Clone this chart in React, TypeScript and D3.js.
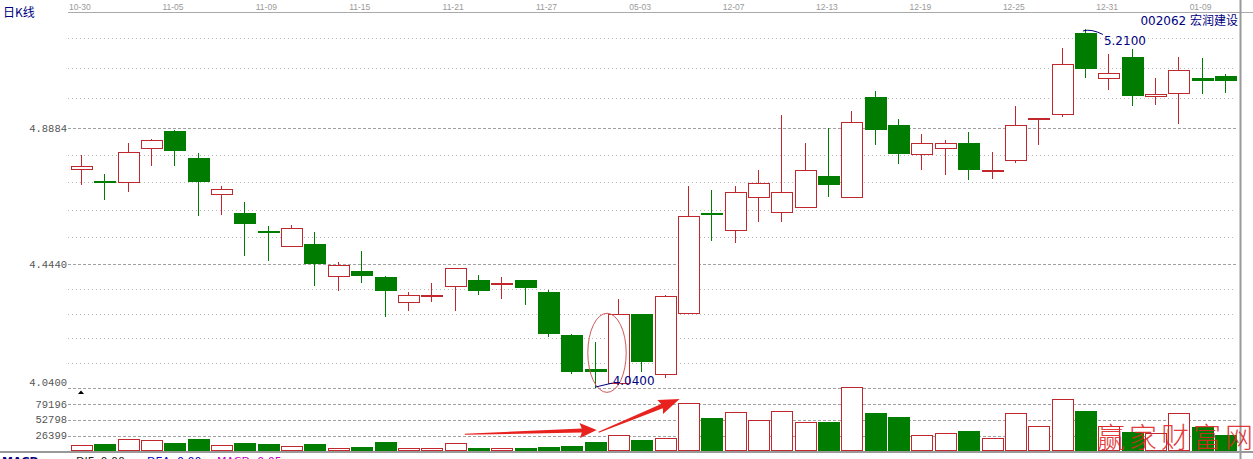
import React from "react";
import * as d3 from "d3";

// ---------- data ----------
const tickLabels = ["10-30", "11-05", "11-09", "11-15", "11-21", "11-27", "05-03", "12-07", "12-13", "12-19", "12-25", "12-31", "01-09"];
const tickIndex = [0, 4, 8, 12, 16, 20, 24, 28, 32, 36, 40, 44, 48];

const openP = [4.755, 4.717, 4.711, 4.823, 4.880, 4.790, 4.673, 4.611, 4.553, 4.502, 4.510, 4.404, 4.423, 4.402, 4.322, 4.342, 4.374, 4.393, 4.381, 4.393, 4.353, 4.213, 4.102, 4.055, 4.281, 4.085, 4.284, 4.611, 4.554, 4.663, 4.614, 4.632, 4.733, 4.663, 4.990, 4.898, 4.802, 4.823, 4.839, 4.749, 4.784, 4.920, 4.934, 5.199, 5.052, 5.121, 4.993, 5.003, 5.050, 5.059];
const highP = [4.801, 4.738, 4.839, 4.852, 4.882, 4.807, 4.700, 4.647, 4.569, 4.572, 4.550, 4.451, 4.488, 4.404, 4.353, 4.382, 4.432, 4.409, 4.402, 4.394, 4.360, 4.215, 4.191, 4.331, 4.283, 4.342, 4.700, 4.687, 4.700, 4.752, 4.932, 4.841, 4.888, 4.943, 5.008, 4.918, 4.870, 4.850, 4.875, 4.810, 4.961, 4.922, 5.150, 5.210, 5.131, 5.147, 5.050, 5.121, 5.117, 5.065];
const lowP = [4.701, 4.652, 4.681, 4.763, 4.763, 4.602, 4.603, 4.472, 4.453, 4.500, 4.374, 4.355, 4.384, 4.273, 4.292, 4.322, 4.292, 4.344, 4.331, 4.311, 4.205, 4.085, 4.040, 4.055, 4.093, 4.073, 4.282, 4.521, 4.513, 4.583, 4.583, 4.630, 4.662, 4.660, 4.832, 4.772, 4.752, 4.734, 4.720, 4.722, 4.774, 4.832, 4.924, 5.050, 5.011, 4.961, 4.962, 4.902, 5.000, 5.003];
const closeP = [4.763, 4.711, 4.810, 4.850, 4.812, 4.711, 4.689, 4.575, 4.545, 4.562, 4.444, 4.442, 4.404, 4.355, 4.343, 4.344, 4.431, 4.355, 4.383, 4.366, 4.215, 4.093, 4.093, 4.281, 4.124, 4.341, 4.600, 4.603, 4.679, 4.709, 4.679, 4.751, 4.701, 4.908, 4.881, 4.802, 4.839, 4.839, 4.752, 4.751, 4.898, 4.922, 5.098, 5.081, 5.068, 4.992, 5.000, 5.078, 5.041, 5.041];
const volume = [11550, 13200, 21450, 19800, 15350, 21950, 11550, 15350, 13200, 9900, 13200, 6600, 8750, 17000, 6600, 6100, 14350, 6100, 6100, 6100, 8250, 9900, 17000, 27550, 19800, 22600, 80350, 55600, 65500, 52300, 67650, 49000, 49500, 106750, 64350, 57750, 27550, 30850, 34650, 22600, 63850, 42400, 86950, 67650, 42900, 33000, 31350, 63850, 41250, 28050];

const priceTicks = [4.8884, 4.444, 4.04];
const volumeTicks = [79196, 52798, 26399];
const stockName = "002062 宏润建设";
const highLabel = "5.2100";
const lowLabel = "4.0400";

// ---------- style ----------
const RED = "#c0282d";
const GREEN = "#007d00";
const NAVY = "#000080";

const W = 1253;
const H = 459;
const PL = 68;
const PR = 1238;

const x = d3.scaleLinear().domain([0, 49]).range([81, 1225]);
const y = d3.scaleLinear().domain([4.04, 4.8884]).range([388, 128]);
const v = d3.scaleLinear().domain([0, 79196]).range([452, 404]);

// minor (dotted) grid levels: 5 subdivisions inside each 10% band
function minorLevels(): number[] {
  const bands = [4.04, 4.444, 4.8884, 4.8884 * 1.1];
  const out: number[] = [];
  for (let b = 0; b < bands.length - 1; b++) {
    const step = (bands[b + 1] - bands[b]) / 5;
    for (let k = 1; k < 5; k++) out.push(bands[b] + step * k);
  }
  return out.filter((p) => y(p) > 20);
}

function arrowPath(x0: number, y0: number, x1: number, y1: number, headLen: number, headHalf: number, w0: number, w1: number) {
  const dx = x1 - x0, dy = y1 - y0;
  const L = Math.hypot(dx, dy);
  const ux = dx / L, uy = dy / L;
  const nx = -uy, ny = ux;
  const bx = x1 - ux * headLen, by = y1 - uy * headLen;
  const pts = [
    [x0 + nx * w0 / 2, y0 + ny * w0 / 2],
    [bx + nx * w1 / 2, by + ny * w1 / 2],
    [bx - ux * 2 + nx * headHalf, by - uy * 2 + ny * headHalf],
    [x1, y1],
    [bx - ux * 2 - nx * headHalf, by - uy * 2 - ny * headHalf],
    [bx - nx * w1 / 2, by - ny * w1 / 2],
    [x0 - nx * w0 / 2, y0 - ny * w0 / 2],
  ];
  return "M" + pts.map((p) => p[0].toFixed(1) + "," + p[1].toFixed(1)).join(" L") + " Z";
}

export default function App() {
  const fmt = d3.format(".4f");
  const half = 10.5;
  const cr = (n: number) => Math.round(n) + 0.5;

  const i43 = 43;
  const hx = x(i43);
  const hy = y(highP[i43]);
  const i22 = 22;
  const lx = x(i22);
  const ly = y(lowP[i22]);

  const highCurve = `M ${hx - 2} ${hy + 1.5} Q ${hx + 6} ${hy - 1} ${hx + 18} ${hy + 5}`;
  const lowLine = `M ${lx + 1} ${ly - 1} L ${lx + 18} ${ly - 5}`;

  return (
    <svg width={W} height={H} style={{ position: "absolute", left: 0, top: 0, background: "#fff" }}>
      <rect x={0} y={0} width={W} height={H} fill="#fff" />
      {/* title */}
      <text x={3} y={17} fontSize={12} fill={NAVY} fontFamily="Noto Sans CJK SC, DejaVu Sans">日K线</text>

      {/* top axis line */}
      <line x1={PL} x2={W} y1={12.5} y2={12.5} stroke="#aaa" strokeWidth={1} />
      {tickLabels.map((t, k) => (
        <text key={t + k} x={x(tickIndex[k]) - 12} y={10} fontSize={8.5} fill="#9a9a9a" fontFamily="Liberation Sans, Arial">{t}</text>
      ))}

      {/* minor dotted grid */}
      {minorLevels().map((p, k) => (
        <line key={"m" + k} x1={PL} x2={PR - 2} y1={cr(y(p))} y2={cr(y(p))} stroke="#b8b8b8" strokeDasharray="1,3" shapeRendering="crispEdges" />
      ))}
      {/* dashed price grid */}
      {priceTicks.map((p, k) => (
        <g key={"p" + k}>
          <line x1={PL} x2={PR} y1={cr(y(p))} y2={cr(y(p))} stroke="#a0a0a0" strokeDasharray="3,2" shapeRendering="crispEdges" />
          <text x={67} y={k === priceTicks.length - 1 ? y(p) - 2.5 : y(p) + 4} textAnchor="end" fontSize={10.5} fill="#555" fontFamily="Liberation Mono, DejaVu Sans Mono">{fmt(p)}</text>
        </g>
      ))}
      {/* dashed volume grid */}
      {volumeTicks.map((t, k) => (
        <g key={"v" + k}>
          <line x1={PL} x2={PR} y1={cr(v(t))} y2={cr(v(t))} stroke="#a0a0a0" strokeDasharray="3,2" shapeRendering="crispEdges" />
          <text x={67} y={v(t) + 3.5} textAnchor="end" fontSize={10.5} fill="#555" fontFamily="Liberation Mono, DejaVu Sans Mono">{t}</text>
        </g>
      ))}

      {/* small triangle marker */}
      <path d={`M ${x(0) - 3} ${y(4.04) + 6} L ${x(0) + 3} ${y(4.04) + 6} L ${x(0)} ${y(4.04) + 2.5} Z`} fill="#000" />

      {/* candles */}
      {openP.map((o, i) => {
        const c = closeP[i];
        const up = c >= o;
        const cx = cr(x(i));
        const yo = y(o), yc = y(c), yh = y(highP[i]), yl = y(lowP[i]);
        if (up) {
          const top = Math.round(yc) + 0.5;
          const bot = Math.max(Math.round(yo) + 0.5, top + 1);
          return (
            <g key={"c" + i} shapeRendering="crispEdges">
              {yh < top && <line x1={cx} x2={cx} y1={yh} y2={top} stroke={RED} />}
              {yl > bot && <line x1={cx} x2={cx} y1={bot} y2={yl} stroke={RED} />}
              <rect x={cx - half} y={top} width={half * 2} height={bot - top} fill="#fff" stroke={RED} />
            </g>
          );
        }
        const top = Math.round(yo);
        const bot = Math.max(Math.round(yc), top + 2);
        return (
          <g key={"c" + i} shapeRendering="crispEdges">
            <line x1={cx} x2={cx} y1={yh} y2={yl} stroke={GREEN} />
            <rect x={cx - half - 0.5} y={top} width={half * 2 + 1} height={bot - top} fill={GREEN} />
          </g>
        );
      })}

      {/* volume bars */}
      {volume.map((vol, i) => {
        const up = closeP[i] >= openP[i];
        const cx = cr(x(i));
        const top = Math.round(v(vol)) + 0.5;
        if (up) {
          return <rect key={"b" + i} x={cx - half} y={top} width={half * 2} height={450.5 - top} fill="#fff" stroke={RED} shapeRendering="crispEdges" />;
        }
        return <rect key={"b" + i} x={cx - half - 0.5} y={top - 0.5} width={half * 2 + 1} height={451 - top + 0.5} fill={GREEN} shapeRendering="crispEdges" />;
      })}

      {/* frame lines */}
      <line x1={0} x2={W} y1={452} y2={452} stroke="#999" strokeWidth={2} />
      <line x1={1240.5} x2={1240.5} y1={0} y2={H} stroke="#999" strokeWidth={2} />

      {/* annotations: high */}
      <path d={highCurve} fill="none" stroke={NAVY} strokeWidth={1} />
      <text x={hx + 19} y={hy + 16} fontSize={12} fill={NAVY} fontFamily="DejaVu Sans, Liberation Sans">{highLabel}</text>
      <text x={1238} y={25} textAnchor="end" fontSize={12} fill={NAVY} fontFamily="DejaVu Sans, Noto Sans CJK SC">{stockName}</text>

      {/* annotation: low with ellipse */}
      <ellipse cx={x(22.53)} cy={y(4.1548)} rx={19.2} ry={y(4.1548) - y(4.2838)} fill="none" stroke="#d05a5a" strokeWidth={1} />
      <path d={lowLine} fill="none" stroke={NAVY} strokeWidth={1} />
      <text x={lx + 18} y={ly - 3} fontSize={12} fill={NAVY} fontFamily="DejaVu Sans, Liberation Sans">{lowLabel}</text>

      {/* red arrows */}
      <path d={arrowPath(x(16.44), v(29200), x(22.09), v(36300), 15, 7.5, 1, 4)} fill="#e8231f" />
      <path d={arrowPath(x(22.17), v(32500), x(25.64), v(87450), 19, 7.5, 1, 4.5)} fill="#e8231f" />

      {/* bottom indicator row (cut off by the frame, as in the source) */}
      <text x={2} y={465} fontSize={11} fill={NAVY} fontWeight="bold" fontFamily="DejaVu Sans">MACD</text>
      <text x={76} y={465} fontSize={11} fill="#222" fontFamily="DejaVu Sans">DIF: 0.00</text>
      <text x={147} y={465} fontSize={11} fill="#0000c0" fontFamily="DejaVu Sans">DEA: 0.00</text>
      <text x={217} y={465} fontSize={11} fill="#c000c0" fontFamily="DejaVu Sans">MACD: 0.05</text>

      {/* watermark */}
      <text x={1097} y={448} fontSize={28} letterSpacing={4} fill="#e02626" fontWeight={200} opacity={0.9} fontFamily="Noto Sans CJK SC">赢家财富网</text>
    </svg>
  );
}
